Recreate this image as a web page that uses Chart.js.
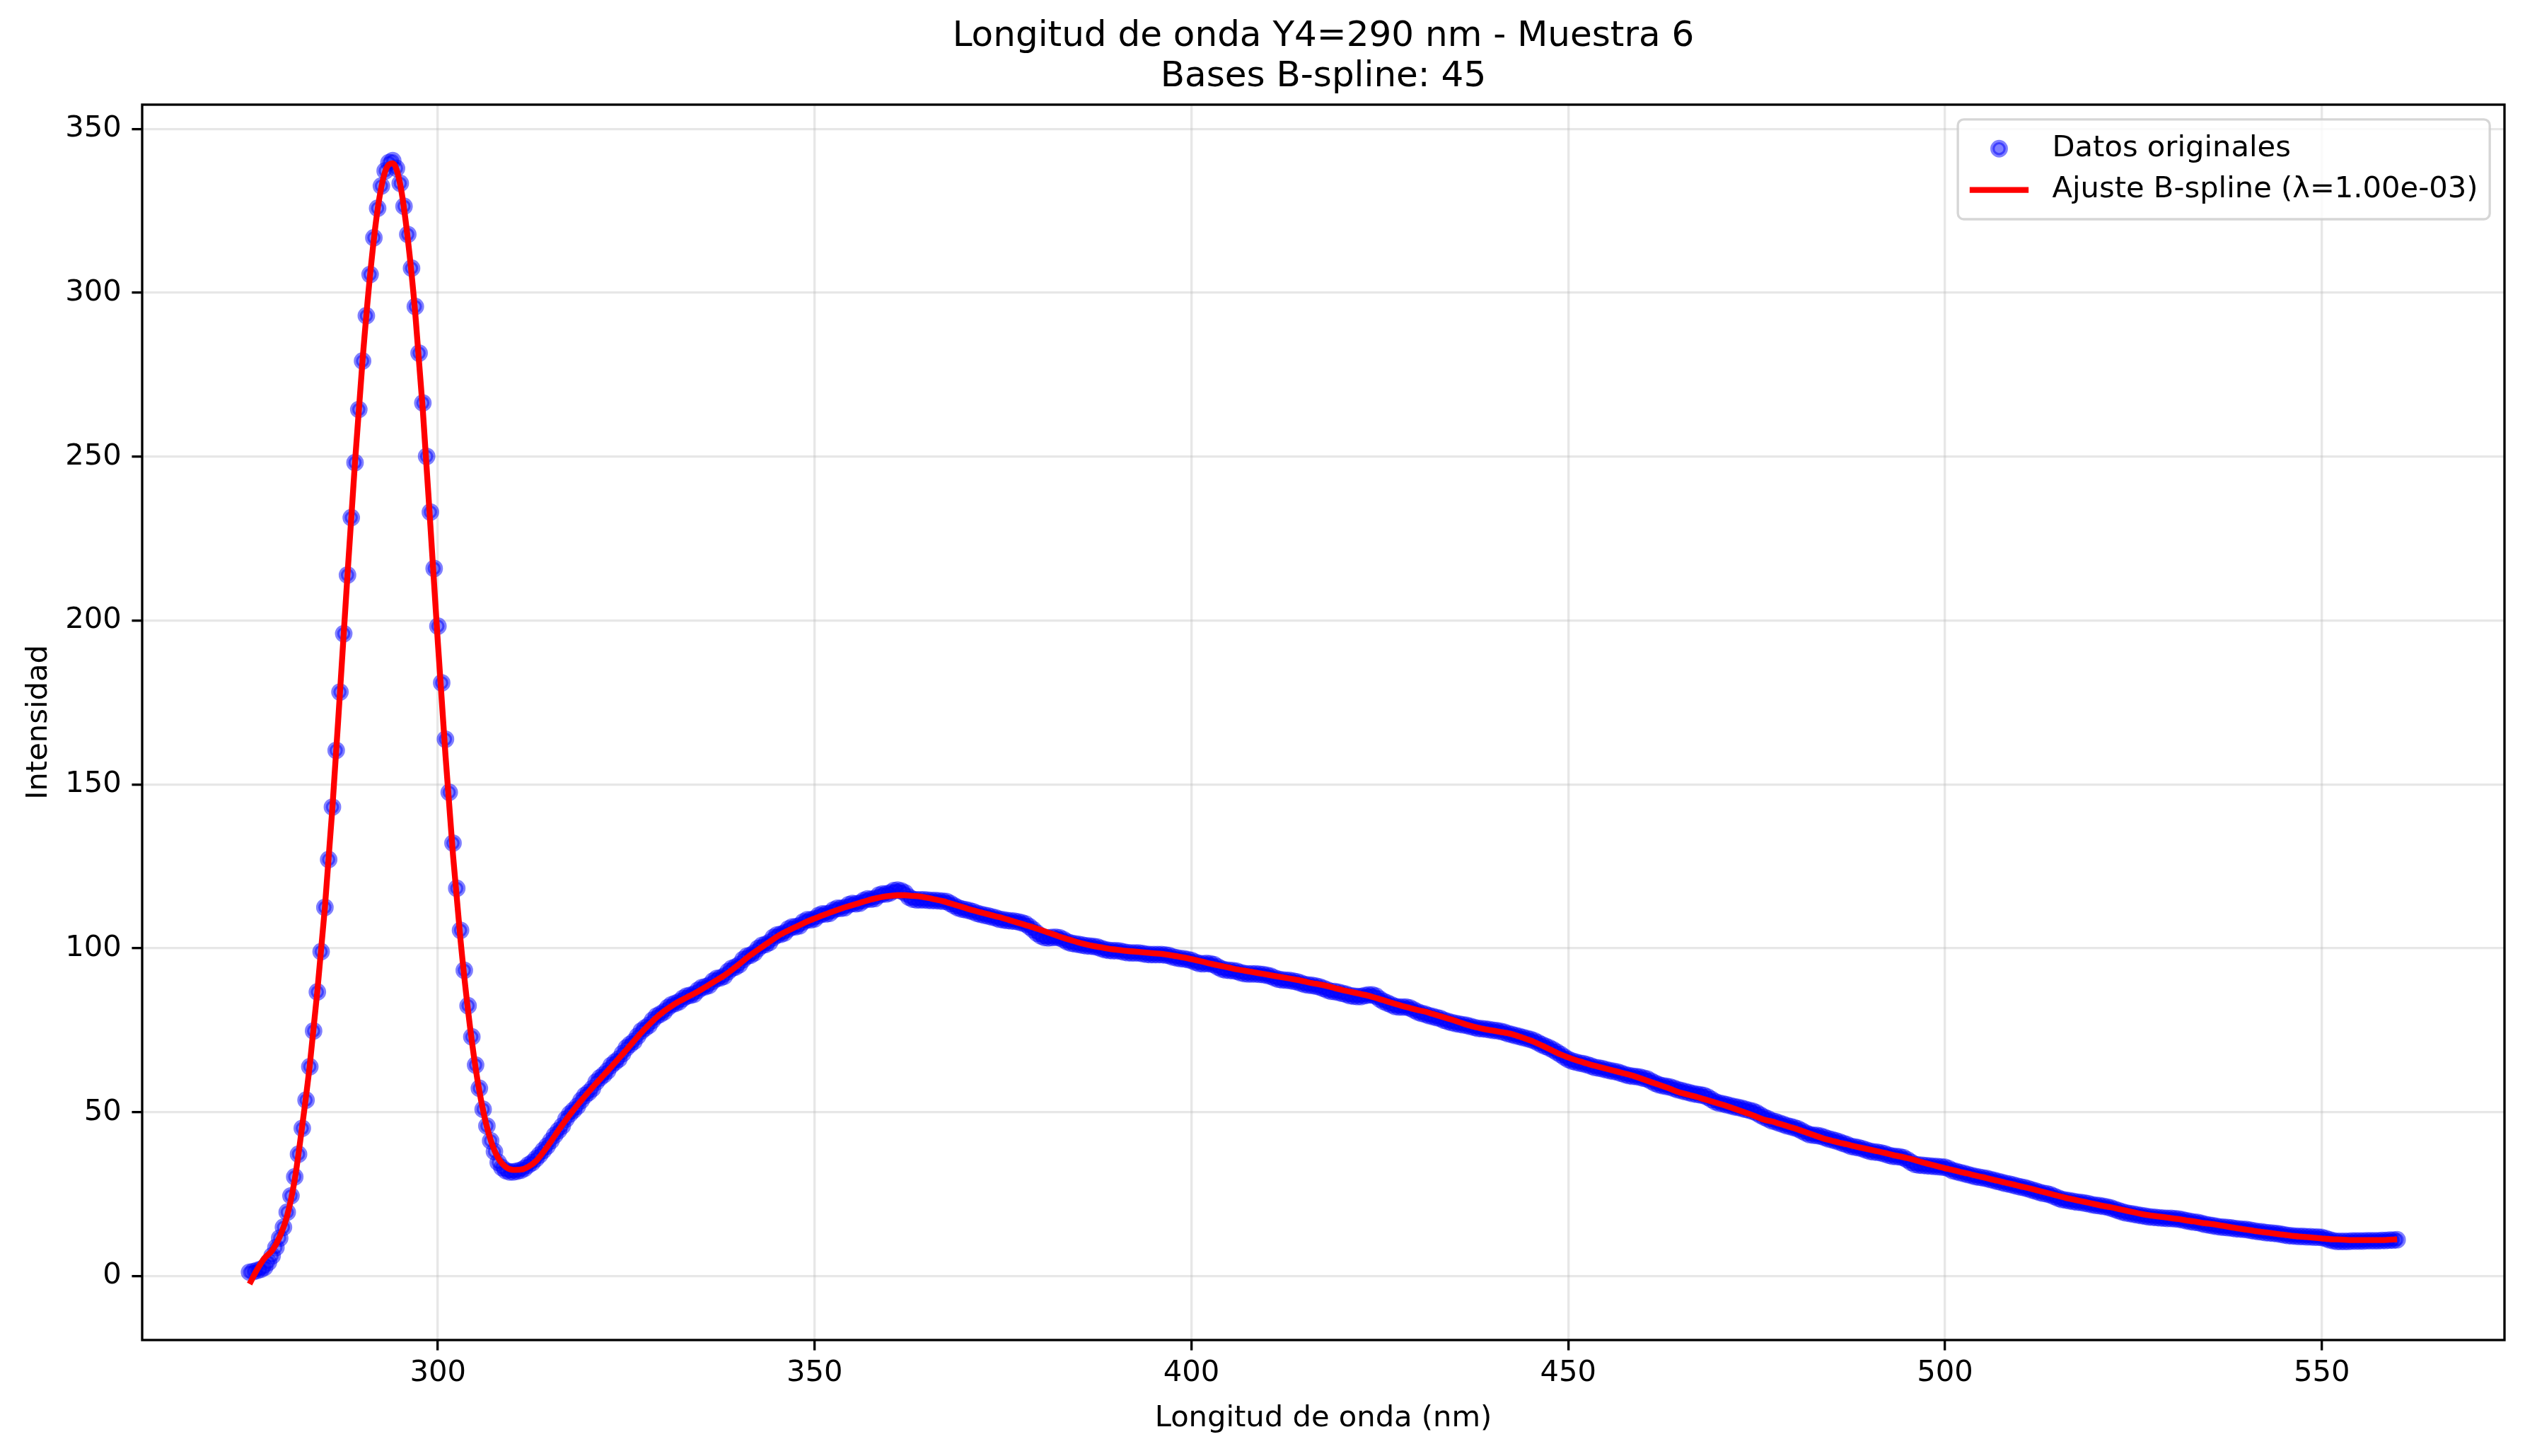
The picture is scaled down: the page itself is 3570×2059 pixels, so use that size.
<!DOCTYPE html>
<html>
<head>
<meta charset="utf-8">
<title>Longitud de onda Y4=290 nm - Muestra 6</title>
<script src="https://cdn.jsdelivr.net/npm/chart.js@4.4.0/dist/chart.umd.min.js"></script>
<style>
  html, body { margin: 0; padding: 0; background: #fff; }
  #wrap { width: 3570px; height: 2059px; }
</style>
</head>
<body>
<div id="wrap"><canvas id="specChart" width="3570" height="2059"></canvas></div>
<script>
const TITLE_LINES   = ['Longitud de onda Y4=290 nm - Muestra 6', 'Bases B-spline: 45'];
const X_LABEL       = 'Longitud de onda (nm)';
const Y_LABEL       = 'Intensidad';
const LEGEND_LABELS = ['Datos originales', 'Ajuste B-spline (λ=1.00e-03)'];
const X_TICKS       = [300, 350, 400, 450, 500, 550];
const Y_TICKS       = [0, 50, 100, 150, 200, 250, 300, 350];

// measured spectrum, 275-560 nm every 0.5 nm
const RAW_START = 275, RAW_STEP = 0.5;
const rawIntensity = [
    1.2, 1.4, 1.7, 2.1, 2.7, 4.2, 6.2, 8.7, 11.6, 14.9,
    19.5, 24.5, 30.3, 37.2, 45.1, 53.7, 63.9, 74.8, 86.7, 99.0,
    112.5, 127.1, 143.1, 160.4, 178.2, 196.0, 213.9, 231.4, 248.2, 264.4,
    279.2, 293.0, 305.6, 316.8, 325.8, 332.6, 337.2, 339.7, 340.3, 338.0,
    333.4, 326.4, 317.8, 307.5, 295.8, 281.6, 266.4, 250.1, 233.1, 215.9,
    198.3, 181.0, 163.8, 147.6, 132.1, 118.3, 105.5, 93.3, 82.5, 73.0,
    64.4, 57.3, 50.9, 45.8, 41.3, 38.0, 34.7, 33.1, 32.2, 31.8,
    31.8, 32.0, 32.3, 32.9, 33.9, 34.6, 35.8, 37.0, 38.4, 39.7,
    41.3, 43.0, 44.4, 45.8, 47.9, 49.5, 50.6, 51.8, 53.6, 55.1,
    56.0, 57.2, 59.2, 60.5, 61.4, 62.6, 64.3, 65.3, 66.2, 67.9,
    69.6, 70.7, 71.6, 73.2, 74.8, 75.7, 76.5, 78.1, 79.3, 79.9,
    80.6, 81.9, 82.8, 83.2, 83.7, 84.7, 85.4, 85.7, 86.0, 87.2,
    88.0, 88.3, 88.7, 90.0, 90.8, 91.0, 91.5, 92.9, 93.9, 94.3,
    95.0, 96.6, 97.6, 97.9, 98.6, 100.0, 100.9, 101.2, 101.8, 103.3,
    104.1, 104.3, 104.7, 105.9, 106.5, 106.6, 106.9, 108.1, 108.7, 108.7,
    109.0, 110.0, 110.5, 110.5, 110.7, 111.7, 112.2, 112.2, 112.4, 113.3,
    113.7, 113.6, 113.8, 114.6, 115.1, 115.0, 115.2, 116.2, 116.6, 116.6,
    116.9, 117.6, 117.8, 117.5, 116.9, 115.6, 115.0, 114.8, 114.8, 114.8,
    114.7, 114.6, 114.6, 114.5, 114.4, 114.3, 113.7, 113.0, 112.4, 112.0,
    111.8, 111.5, 111.2, 110.7, 110.4, 110.1, 109.9, 109.6, 109.3, 108.9,
    108.7, 108.5, 108.4, 108.3, 108.1, 107.8, 107.4, 106.6, 105.7, 104.6,
    103.8, 103.3, 103.2, 103.3, 103.4, 103.2, 102.7, 102.0, 101.6, 101.4,
    101.2, 101.0, 100.8, 100.7, 100.6, 100.4, 100.0, 99.6, 99.4, 99.3,
    99.3, 99.2, 98.9, 98.7, 98.6, 98.6, 98.6, 98.4, 98.2, 98.1,
    98.1, 98.1, 98.1, 98.0, 97.8, 97.4, 97.1, 96.9, 96.8, 96.6,
    96.3, 95.8, 95.4, 95.3, 95.4, 95.3, 95.0, 94.3, 93.7, 93.4,
    93.3, 93.2, 93.0, 92.6, 92.3, 92.2, 92.2, 92.2, 92.1, 92.0,
    91.8, 91.5, 91.0, 90.6, 90.4, 90.3, 90.2, 90.0, 89.8, 89.4,
    89.0, 88.8, 88.7, 88.5, 88.2, 87.8, 87.3, 86.9, 86.8, 86.6,
    86.3, 86.0, 85.6, 85.4, 85.3, 85.3, 85.6, 85.8, 85.8, 85.4,
    84.5, 83.8, 83.3, 82.8, 82.3, 82.1, 82.1, 82.1, 81.8, 81.2,
    80.6, 80.2, 79.9, 79.5, 79.2, 78.9, 78.6, 78.1, 77.7, 77.4,
    77.1, 76.9, 76.7, 76.5, 76.2, 75.9, 75.6, 75.5, 75.4, 75.2,
    75.0, 74.9, 74.7, 74.4, 74.0, 73.7, 73.4, 73.1, 72.8, 72.5,
    72.2, 71.8, 71.2, 70.6, 70.1, 69.6, 69.0, 68.3, 67.6, 66.8,
    66.1, 65.6, 65.3, 65.0, 64.8, 64.5, 64.1, 63.7, 63.5, 63.3,
    63.0, 62.7, 62.5, 62.3, 61.9, 61.5, 61.2, 61.0, 60.9, 60.7,
    60.4, 60.1, 59.5, 58.9, 58.4, 58.1, 57.9, 57.7, 57.3, 56.9,
    56.6, 56.3, 56.0, 55.7, 55.5, 55.3, 55.1, 54.6, 53.9, 53.2,
    52.8, 52.6, 52.3, 52.0, 51.7, 51.5, 51.2, 50.9, 50.6, 50.3,
    49.8, 49.1, 48.5, 48.0, 47.4, 47.1, 46.7, 46.3, 45.9, 45.6,
    45.3, 44.9, 44.3, 43.7, 43.2, 43.0, 42.9, 42.7, 42.3, 41.9,
    41.6, 41.3, 40.9, 40.5, 40.1, 39.6, 39.4, 39.2, 38.9, 38.5,
    38.1, 37.9, 37.8, 37.6, 37.3, 36.9, 36.6, 36.5, 36.4, 36.1,
    35.5, 34.7, 34.1, 33.9, 33.8, 33.7, 33.6, 33.5, 33.4, 33.3,
    33.2, 32.8, 32.2, 31.9, 31.6, 31.3, 31.0, 30.7, 30.4, 30.2,
    30.0, 29.8, 29.5, 29.2, 28.9, 28.6, 28.3, 28.1, 27.8, 27.5,
    27.2, 27.0, 26.7, 26.3, 26.0, 25.6, 25.3, 25.1, 24.8, 24.3,
    23.8, 23.4, 23.2, 23.0, 22.8, 22.6, 22.5, 22.3, 22.1, 21.8,
    21.6, 21.5, 21.3, 21.1, 20.8, 20.4, 20.0, 19.6, 19.3, 19.1,
    18.9, 18.7, 18.5, 18.3, 18.1, 18.0, 17.9, 17.8, 17.7, 17.6,
    17.6, 17.5, 17.4, 17.2, 16.9, 16.7, 16.5, 16.4, 16.1, 15.8,
    15.6, 15.4, 15.2, 15.0, 14.9, 14.8, 14.7, 14.5, 14.4, 14.3,
    14.2, 14.0, 13.8, 13.6, 13.5, 13.3, 13.2, 13.1, 13.0, 12.8,
    12.6, 12.4, 12.3, 12.2, 12.1, 12.1, 12.0, 12.0, 11.9, 11.9,
    11.8, 11.5, 11.1, 10.8, 10.6, 10.6, 10.6, 10.6, 10.7, 10.7,
    10.7, 10.7, 10.8, 10.8, 10.8, 10.8, 10.9, 10.9, 11.0, 11.0,
    11.1
];

// B-spline fit, 275-560 nm every 1 nm
const FIT_START = 275, FIT_STEP = 1;
const fitIntensity = [
    -2.4, 2.0, 5.5, 7.8, 12.0, 18.5, 29.5, 46.0, 64.5, 87.0,
    112.5, 143.0, 178.0, 214.0, 248.5, 279.5, 305.5, 325.5, 337.0, 339.5,
    333.0, 316.5, 293.5, 264.0, 229.0, 193.0, 159.0, 128.5, 102.5, 81.0,
    63.5, 50.5, 41.5, 36.0, 33.3, 32.4, 32.5, 33.4, 35.1, 37.9,
    41.1, 44.5, 47.7, 50.7, 53.5, 56.2, 58.8, 61.3, 63.8, 66.4,
    69.0, 71.7, 74.3, 76.7, 78.9, 80.8, 82.4, 83.8, 85.0, 86.2,
    87.5, 88.9, 90.3, 91.7, 93.4, 95.2, 97.1, 98.8, 100.4, 102.0,
    103.6, 104.9, 106.0, 107.1, 108.2, 109.1, 110.0, 110.9, 111.7, 112.5,
    113.2, 113.9, 114.6, 115.2, 115.7, 116.0, 116.2, 116.2, 116.0, 115.8,
    115.4, 114.9, 114.4, 113.7, 113.0, 112.3, 111.6, 111.0, 110.4, 109.8,
    109.2, 108.5, 107.8, 107.1, 106.4, 105.6, 104.8, 104.0, 103.2, 102.5,
    101.8, 101.2, 100.7, 100.3, 99.9, 99.6, 99.3, 99.1, 98.9, 98.7,
    98.5, 98.3, 98.0, 97.6, 97.2, 96.7, 96.2, 95.6, 95.1, 94.6,
    94.1, 93.6, 93.2, 92.8, 92.4, 92.0, 91.6, 91.2, 90.8, 90.4,
    89.9, 89.4, 89.0, 88.5, 87.9, 87.3, 86.8, 86.3, 85.8, 85.2,
    84.5, 83.8, 83.1, 82.4, 81.8, 81.2, 80.7, 80.0, 79.3, 78.6,
    77.9, 77.1, 76.4, 75.8, 75.3, 74.9, 74.5, 74.1, 73.5, 72.7,
    71.9, 70.9, 69.8, 68.7, 67.6, 66.7, 65.9, 65.2, 64.5, 63.9,
    63.3, 62.7, 62.1, 61.5, 60.8, 60.0, 59.2, 58.4, 57.6, 56.7,
    55.9, 55.3, 54.7, 54.0, 53.3, 52.6, 51.9, 51.1, 50.3, 49.5,
    48.6, 47.7, 47.2, 46.5, 45.8, 45.1, 44.3, 43.5, 42.7, 41.9,
    41.3, 40.7, 40.2, 39.6, 39.1, 38.6, 38.1, 37.6, 37.0, 36.5,
    36.0, 35.4, 34.7, 34.1, 33.5, 32.9, 32.4, 31.8, 31.3, 30.7,
    30.2, 29.6, 29.1, 28.5, 28.0, 27.4, 26.9, 26.3, 25.7, 25.1,
    24.5, 23.9, 23.4, 22.9, 22.4, 21.9, 21.4, 21.0, 20.5, 20.0,
    19.5, 19.0, 18.6, 18.3, 18.0, 17.7, 17.4, 17.0, 16.7, 16.3,
    16.0, 15.7, 15.3, 14.9, 14.5, 14.2, 13.8, 13.5, 13.2, 12.9,
    12.6, 12.3, 12.1, 11.9, 11.7, 11.5, 11.3, 11.2, 11.1, 11.0,
    11.0, 11.0, 11.0, 11.0, 11.1, 11.2
];

const FONT = 'DejaVu Sans';
const PT = 300 / 72;              // figure rendered at 300 dpi
const rawPoints = rawIntensity.map((v, i) => ({ x: RAW_START + i * RAW_STEP, y: v }));
const fitPoints = fitIntensity.map((v, i) => ({ x: FIT_START + i * FIT_STEP, y: v }));

const BLUE_A = 'rgba(0,0,255,0.5)';
const RED = '#ff0000';
const DOT_R = 9.3, DOT_EDGE = 1.5 * PT;

// outer box of the axes (matplotlib draws all four spines)
const framePlugin = {
    id: 'frame',
    afterDatasetsDraw(chart) {
        const { ctx, chartArea: a } = chart;
        ctx.save();
        ctx.strokeStyle = '#000';
        ctx.lineWidth = 0.8 * PT;
        ctx.strokeRect(a.left, a.top, a.right - a.left, a.bottom - a.top);
        ctx.restore();
    }
};

// legend box in the upper right corner, matplotlib style
const legendPlugin = {
    id: 'mplLegend',
    afterDraw(chart) {
        const { ctx, chartArea: a } = chart;
        const fs = 10 * PT;
        const pad = 0.4 * fs, handleLen = 2.0 * fs, textPad = 0.8 * fs, gap = 0.5 * fs;
        ctx.save();
        ctx.font = `${fs}px "${FONT}"`;
        const textW = Math.max(...LEGEND_LABELS.map(t => ctx.measureText(t).width));
        const rowH = 0.9 * fs;
        const w = pad * 2 + handleLen + textPad + textW;
        const h = pad * 2 + rowH * 2 + gap + 12;
        const right = a.right - 0.5 * fs, top = a.top + 0.5 * fs, left = right - w;
        const r = 0.2 * fs;
        ctx.beginPath();
        ctx.moveTo(left + r, top);
        ctx.arcTo(right, top, right, top + h, r);
        ctx.arcTo(right, top + h, left, top + h, r);
        ctx.arcTo(left, top + h, left, top, r);
        ctx.arcTo(left, top, right, top, r);
        ctx.closePath();
        ctx.fillStyle = 'rgba(255,255,255,0.8)';
        ctx.fill();
        ctx.strokeStyle = 'rgba(204,204,204,0.8)';
        ctx.lineWidth = 0.8 * PT;
        ctx.stroke();

        const y1 = top + pad + 6 + rowH / 2;
        const y2 = y1 + rowH + gap;
        const hx = left + pad;
        // scatter handle
        ctx.beginPath();
        ctx.arc(hx + handleLen / 2, y1, DOT_R, 0, Math.PI * 2);
        ctx.fillStyle = BLUE_A; ctx.fill();
        ctx.strokeStyle = BLUE_A; ctx.lineWidth = DOT_EDGE; ctx.stroke();
        // line handle
        ctx.beginPath();
        ctx.moveTo(hx, y2); ctx.lineTo(hx + handleLen, y2);
        ctx.strokeStyle = RED; ctx.lineWidth = 2 * PT; ctx.lineCap = 'butt'; ctx.stroke();

        ctx.fillStyle = '#000';
        ctx.textBaseline = 'middle';
        ctx.textAlign = 'left';
        ctx.fillText(LEGEND_LABELS[0], hx + handleLen + textPad, y1);
        ctx.fillText(LEGEND_LABELS[1], hx + handleLen + textPad, y2);
        ctx.restore();
    }
};

const gridOpts = {
    color: 'rgba(176,176,176,0.3)',
    lineWidth: 0.8 * PT,
    drawTicks: true,
    tickLength: 3.5 * PT,
    tickWidth: 0.8 * PT,
    tickColor: '#000'
};

new Chart(document.getElementById('specChart'), {
    type: 'scatter',
    data: {
        datasets: [
            {
                type: 'line', label: LEGEND_LABELS[1], data: fitPoints, order: 0,
                borderColor: RED, borderWidth: 2 * PT, pointRadius: 0, fill: false,
                cubicInterpolationMode: 'monotone'
            },
            {
                type: 'scatter', label: LEGEND_LABELS[0], data: rawPoints, order: 1,
                backgroundColor: BLUE_A, borderColor: BLUE_A, borderWidth: DOT_EDGE, pointRadius: DOT_R
            }
        ]
    },
    options: {
        responsive: false, maintainAspectRatio: false, devicePixelRatio: 1,
        animation: false, events: [],
        layout: { padding: { left: 0, right: 29, top: 0, bottom: 0 } },
        plugins: {
            legend: { display: false },
            tooltip: { enabled: false },
            title: {
                display: true, text: TITLE_LINES, fullSize: false, color: '#000',
                font: { family: FONT, size: 12 * PT, weight: 'normal', lineHeight: 1.15 },
                padding: { top: 23, bottom: 10 }
            }
        },
        scales: {
            x: {
                type: 'linear', min: 260.75, max: 574.25,
                afterBuildTicks: s => { s.ticks = X_TICKS.map(v => ({ value: v })); },
                afterFit: s => { s.height = 164; },
                grid: gridOpts,
                border: { display: false },
                ticks: { color: '#000', padding: 8, maxRotation: 0, font: { family: FONT, size: 10 * PT } },
                title: { display: true, text: X_LABEL, color: '#000', font: { family: FONT, size: 10 * PT }, padding: { top: 0, bottom: 28 } }
            },
            y: {
                type: 'linear', min: -19.5, max: 357.4,
                afterBuildTicks: s => { s.ticks = Y_TICKS.map(v => ({ value: v })); },
                afterFit: s => { s.width = 201; },
                grid: gridOpts,
                border: { display: false },
                ticks: { color: '#000', padding: 3.5 * PT, font: { family: FONT, size: 10 * PT } },
                title: { display: true, text: Y_LABEL, color: '#000', font: { family: FONT, size: 10 * PT }, padding: { top: 30, bottom: 0 } }
            }
        }
    },
    plugins: [framePlugin, legendPlugin]
});
</script>
</body>
</html>
